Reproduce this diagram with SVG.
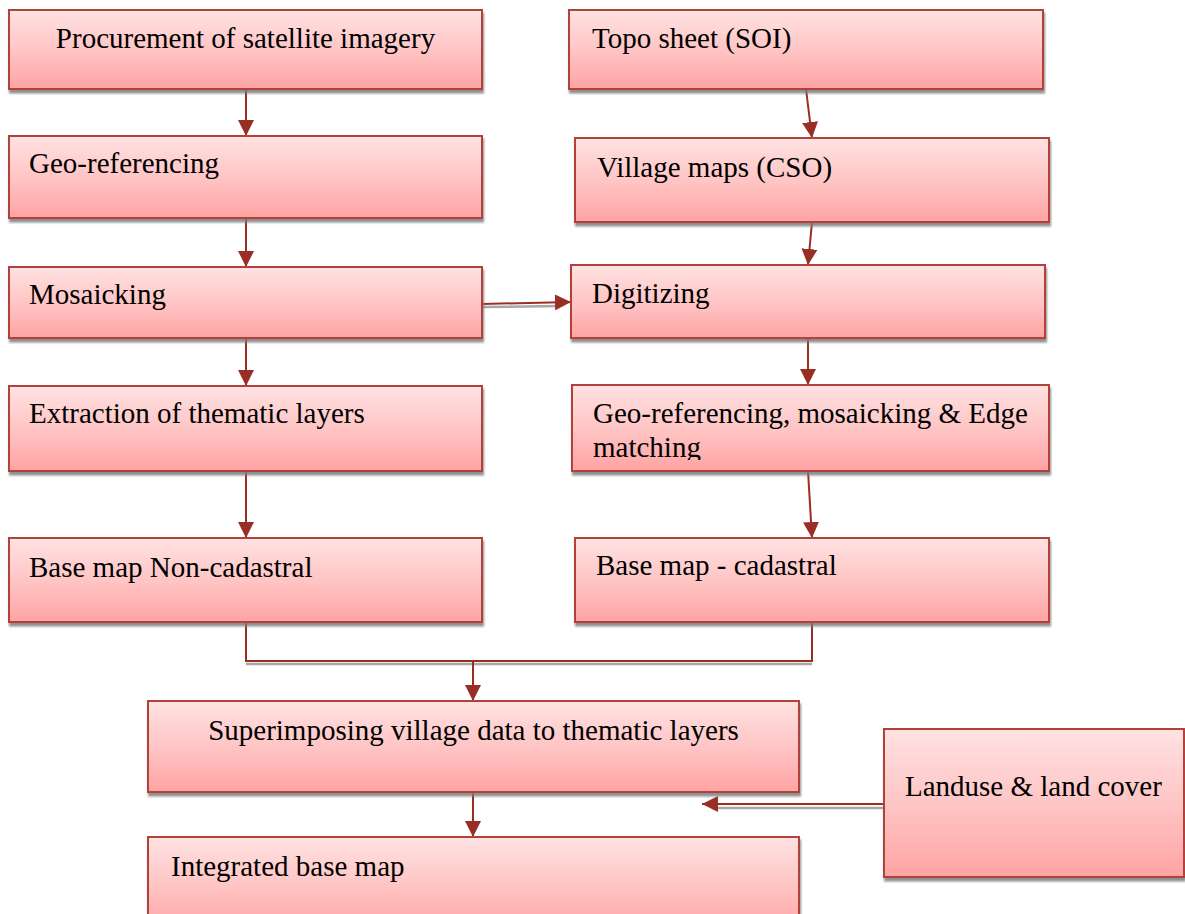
<svg xmlns="http://www.w3.org/2000/svg" width="1185" height="914" viewBox="0 0 1185 914">
<style>
.box{fill:url(#g);stroke:#B0423B;stroke-width:2;filter:url(#sh)}
.t{font-family:"Liberation Serif","Times New Roman",serif;font-size:29px;fill:#000}
.c{fill:none;stroke:#992E24;stroke-width:2}
.s{fill:none;stroke:#A8A8A8;stroke-width:2.5}
</style>
<defs>
<linearGradient id="g" x1="0" y1="0" x2="0" y2="1">
<stop offset="0" stop-color="#FFE2E2"/>
<stop offset="0.55" stop-color="#FFC2C2"/>
<stop offset="1" stop-color="#FFA3A3"/>
</linearGradient>
<filter id="sh" x="-5%" y="-10%" width="115%" height="130%">
<feDropShadow dx="1" dy="3.5" stdDeviation="0.8" flood-color="#7a7a7a" flood-opacity="0.85"/>
</filter>
<marker id="a" markerUnits="userSpaceOnUse" markerWidth="16" markerHeight="16" viewBox="0 0 16 16" refX="16" refY="8" orient="auto">
<path d="M0,0 L16,8 L0,16 z" fill="#992E24"/>
</marker>
<clipPath id="clipgm"><rect x="572" y="385" width="477" height="75"/></clipPath>
</defs>
<g id="connectors">
<path class="s" d="M482,307 L560,306"/>
<path class="s" d="M246,664 L812,664"/>
<path class="s" d="M884,808 L712,808"/>
<path class="c" d="M246,89 L246,136" marker-end="url(#a)"/>
<path class="c" d="M246,218 L246,267" marker-end="url(#a)"/>
<path class="c" d="M246,338 L246,386" marker-end="url(#a)"/>
<path class="c" d="M246,471 L246,538" marker-end="url(#a)"/>
<path class="c" d="M806,89 L812,138" marker-end="url(#a)"/>
<path class="c" d="M812,222 L808,265" marker-end="url(#a)"/>
<path class="c" d="M808,338 L808,385" marker-end="url(#a)"/>
<path class="c" d="M808,471 L812,538" marker-end="url(#a)"/>
<path class="c" d="M482,304 L571,302" marker-end="url(#a)"/>
<path class="c" d="M246,622 L246,661 L812,661 L812,622"/>
<path class="c" d="M473,661 L473,701" marker-end="url(#a)"/>
<path class="c" d="M473,792 L473,837" marker-end="url(#a)"/>
<path class="c" d="M884,804 L702,804" marker-end="url(#a)"/>
</g>
<g id="procurement"><rect class="box" x="9" y="10" width="473" height="79"/><text class="t" x="245.5" y="48" text-anchor="middle">Procurement of satellite imagery</text></g>
<g id="topo"><rect class="box" x="569" y="10" width="474" height="79"/><text class="t" x="592" y="48">Topo sheet (SOI)</text></g>
<g id="georef"><rect class="box" x="9" y="136" width="473" height="82"/><text class="t" x="29" y="173">Geo-referencing</text></g>
<g id="village"><rect class="box" x="575" y="138" width="474" height="84"/><text class="t" x="597" y="177">Village maps (CSO)</text></g>
<g id="mosaicking"><rect class="box" x="9" y="267" width="473" height="71"/><text class="t" x="29" y="304">Mosaicking</text></g>
<g id="digitizing"><rect class="box" x="571" y="265" width="474" height="73"/><text class="t" x="592" y="303">Digitizing</text></g>
<g id="extraction"><rect class="box" x="9" y="386" width="473" height="85"/><text class="t" x="29" y="423">Extraction of thematic layers</text></g>
<g id="geomosaic"><rect class="box" x="572" y="385" width="477" height="86"/><g clip-path="url(#clipgm)"><text class="t" x="593" y="423">Geo-referencing, mosaicking &amp; Edge</text><text class="t" x="593" y="457">matching</text></g></g>
<g id="basenoncad"><rect class="box" x="9" y="538" width="473" height="84"/><text class="t" x="29" y="577">Base map Non-cadastral</text></g>
<g id="basecad"><rect class="box" x="575" y="538" width="474" height="84"/><text class="t" x="596" y="575">Base map - cadastral</text></g>
<g id="superimpose"><rect class="box" x="148" y="701" width="651" height="91"/><text class="t" x="473.5" y="740" text-anchor="middle">Superimposing village data to thematic layers</text></g>
<g id="landuse"><rect class="box" x="884" y="729" width="300" height="148"/><text class="t" x="905" y="796">Landuse &amp; land cover</text></g>
<g id="integrated"><rect class="box" x="148" y="837" width="651" height="95"/><text class="t" x="171" y="876">Integrated base map</text></g>
</svg>
